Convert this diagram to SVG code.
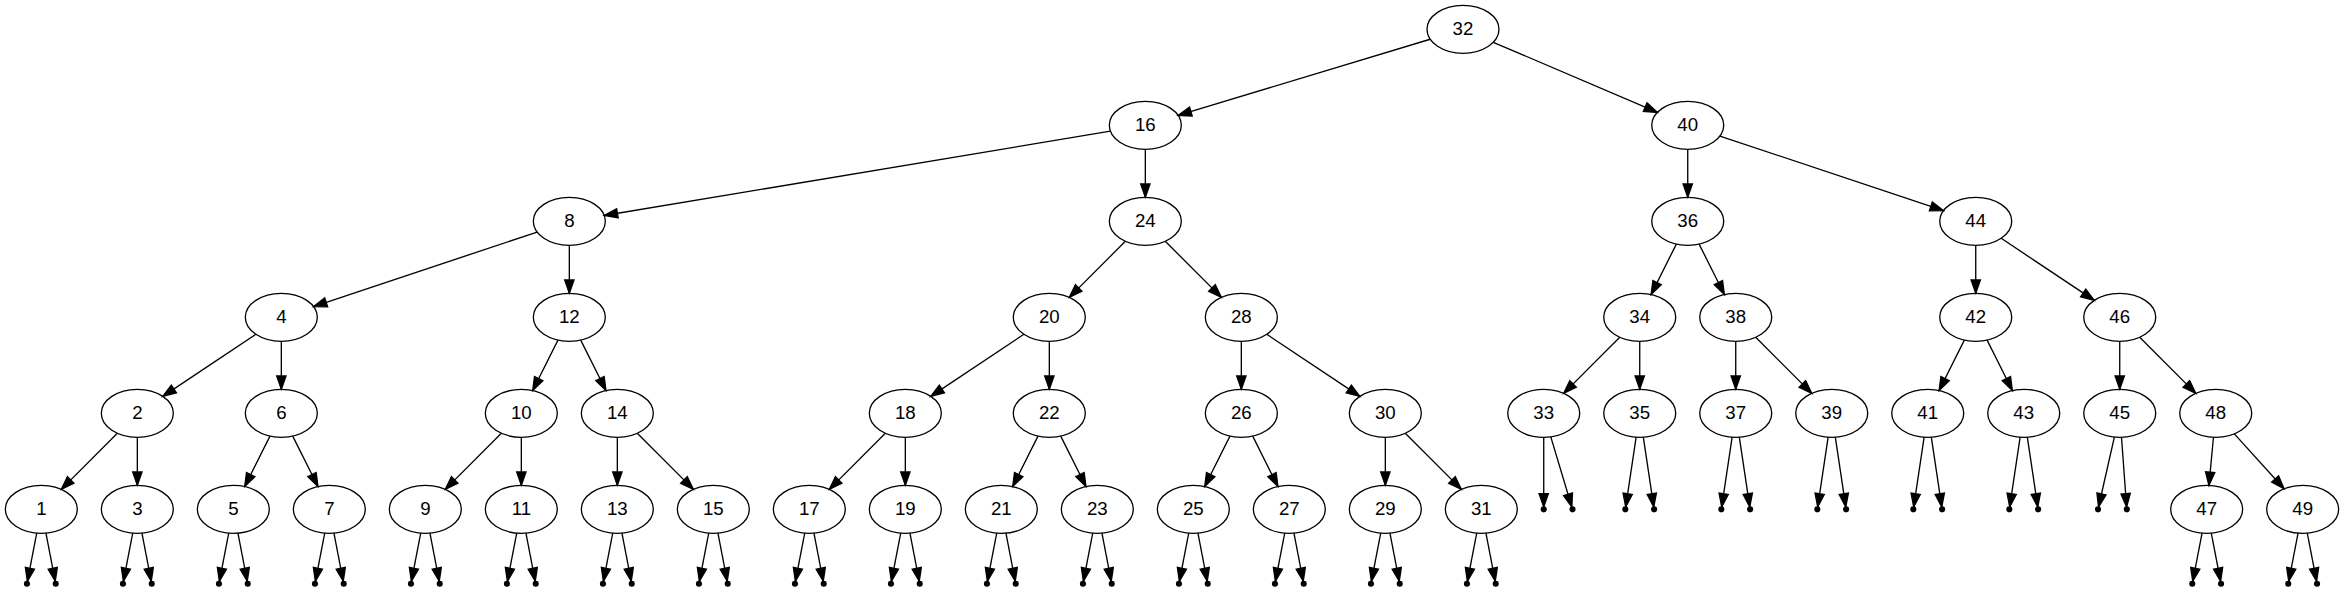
<svg xmlns="http://www.w3.org/2000/svg" width="2344" height="591" viewBox="0 0 2344 591">
<style>
.n ellipse{fill:none;stroke:#000;stroke-width:1.33}
.n text{font-family:"Liberation Sans",Arial,sans-serif;font-size:18.67px;text-anchor:middle;fill:#000}
.p circle{fill:#000;stroke:#000;stroke-width:1.33}
#edges line{stroke:#000;stroke-width:1.33;fill:none;marker-end:url(#ah)}
</style>
<defs>
<marker id="ah" markerUnits="userSpaceOnUse" markerWidth="16" markerHeight="12" refX="13.33" refY="4.67" orient="auto" style="overflow:visible">
<path d="M0,0 L13.33,4.67 L0,9.33 Z" fill="#000" stroke="#000" stroke-width="1.33"/>
</marker>
</defs>
<rect width="2344" height="591" fill="#fff"/>
<g id="edges">
<line x1="1430.21" y1="39.24" x2="1178.12" y2="115.42"/>
<line x1="1493.31" y1="42.28" x2="1657.42" y2="112.38"/>
<line x1="1110.40" y1="131.15" x2="604.26" y2="215.51"/>
<line x1="1145.33" y1="149.33" x2="1145.33" y2="197.33"/>
<line x1="1687.73" y1="149.33" x2="1687.73" y2="197.33"/>
<line x1="1719.93" y1="136.06" x2="1943.53" y2="210.60"/>
<line x1="537.13" y1="232.06" x2="313.53" y2="306.60"/>
<line x1="569.33" y1="245.33" x2="569.33" y2="293.33"/>
<line x1="1125.36" y1="241.30" x2="1069.30" y2="297.36"/>
<line x1="1165.30" y1="241.30" x2="1221.36" y2="297.36"/>
<line x1="1676.35" y1="244.10" x2="1651.11" y2="294.56"/>
<line x1="1699.11" y1="244.10" x2="1724.35" y2="294.56"/>
<line x1="1975.73" y1="245.33" x2="1975.73" y2="293.33"/>
<line x1="2001.19" y1="238.30" x2="2094.27" y2="300.36"/>
<line x1="255.87" y1="334.30" x2="162.79" y2="396.36"/>
<line x1="281.33" y1="341.33" x2="281.33" y2="389.33"/>
<line x1="557.95" y1="340.10" x2="532.71" y2="390.56"/>
<line x1="580.71" y1="340.10" x2="605.95" y2="390.56"/>
<line x1="1023.87" y1="334.30" x2="930.79" y2="396.36"/>
<line x1="1049.33" y1="341.33" x2="1049.33" y2="389.33"/>
<line x1="1241.33" y1="341.33" x2="1241.33" y2="389.33"/>
<line x1="1266.79" y1="334.30" x2="1359.87" y2="396.36"/>
<line x1="1619.76" y1="337.30" x2="1563.70" y2="393.36"/>
<line x1="1639.73" y1="341.33" x2="1639.73" y2="389.33"/>
<line x1="1735.73" y1="341.33" x2="1735.73" y2="389.33"/>
<line x1="1755.70" y1="337.30" x2="1811.76" y2="393.36"/>
<line x1="1964.35" y1="340.10" x2="1939.11" y2="390.56"/>
<line x1="1987.11" y1="340.10" x2="2012.35" y2="390.56"/>
<line x1="2119.73" y1="341.33" x2="2119.73" y2="389.33"/>
<line x1="2139.70" y1="337.30" x2="2195.76" y2="393.36"/>
<line x1="117.36" y1="433.30" x2="61.30" y2="489.36"/>
<line x1="137.33" y1="437.33" x2="137.33" y2="485.33"/>
<line x1="269.95" y1="436.10" x2="244.71" y2="486.56"/>
<line x1="292.71" y1="436.10" x2="317.95" y2="486.56"/>
<line x1="501.36" y1="433.30" x2="445.30" y2="489.36"/>
<line x1="521.33" y1="437.33" x2="521.33" y2="485.33"/>
<line x1="617.33" y1="437.33" x2="617.33" y2="485.33"/>
<line x1="637.30" y1="433.30" x2="693.36" y2="489.36"/>
<line x1="885.36" y1="433.30" x2="829.30" y2="489.36"/>
<line x1="905.33" y1="437.33" x2="905.33" y2="485.33"/>
<line x1="1037.95" y1="436.10" x2="1012.71" y2="486.56"/>
<line x1="1060.71" y1="436.10" x2="1085.95" y2="486.56"/>
<line x1="1229.95" y1="436.10" x2="1204.71" y2="486.56"/>
<line x1="1252.71" y1="436.10" x2="1277.95" y2="486.56"/>
<line x1="1385.33" y1="437.33" x2="1385.33" y2="485.33"/>
<line x1="1405.30" y1="433.30" x2="1461.36" y2="489.36"/>
<line x1="2213.47" y1="437.28" x2="2208.93" y2="485.38"/>
<line x1="2234.34" y1="433.88" x2="2284.06" y2="488.78"/>
<line x1="1543.73" y1="437.33" x2="1543.73" y2="506.93"/>
<line x1="1550.79" y1="436.86" x2="1571.84" y2="507.03"/>
<line x1="1636.15" y1="437.21" x2="1625.69" y2="506.96"/>
<line x1="1643.31" y1="437.21" x2="1653.77" y2="506.96"/>
<line x1="1732.15" y1="437.21" x2="1721.69" y2="506.96"/>
<line x1="1739.31" y1="437.21" x2="1749.77" y2="506.96"/>
<line x1="1828.15" y1="437.21" x2="1817.69" y2="506.96"/>
<line x1="1835.31" y1="437.21" x2="1845.77" y2="506.96"/>
<line x1="1924.15" y1="437.21" x2="1913.69" y2="506.96"/>
<line x1="1931.31" y1="437.21" x2="1941.77" y2="506.96"/>
<line x1="2020.15" y1="437.21" x2="2009.69" y2="506.96"/>
<line x1="2027.31" y1="437.21" x2="2037.77" y2="506.96"/>
<line x1="2114.36" y1="437.06" x2="2098.53" y2="506.99"/>
<line x1="2121.50" y1="437.30" x2="2126.62" y2="506.94"/>
<line x1="36.72" y1="533.13" x2="27.39" y2="581.37"/>
<line x1="45.94" y1="533.13" x2="55.27" y2="581.37"/>
<line x1="132.72" y1="533.13" x2="123.39" y2="581.37"/>
<line x1="141.94" y1="533.13" x2="151.27" y2="581.37"/>
<line x1="228.72" y1="533.13" x2="219.39" y2="581.37"/>
<line x1="237.94" y1="533.13" x2="247.27" y2="581.37"/>
<line x1="324.72" y1="533.13" x2="315.39" y2="581.37"/>
<line x1="333.94" y1="533.13" x2="343.27" y2="581.37"/>
<line x1="420.72" y1="533.13" x2="411.39" y2="581.37"/>
<line x1="429.94" y1="533.13" x2="439.27" y2="581.37"/>
<line x1="516.72" y1="533.13" x2="507.39" y2="581.37"/>
<line x1="525.94" y1="533.13" x2="535.27" y2="581.37"/>
<line x1="612.72" y1="533.13" x2="603.39" y2="581.37"/>
<line x1="621.94" y1="533.13" x2="631.27" y2="581.37"/>
<line x1="708.72" y1="533.13" x2="699.39" y2="581.37"/>
<line x1="717.94" y1="533.13" x2="727.27" y2="581.37"/>
<line x1="804.72" y1="533.13" x2="795.39" y2="581.37"/>
<line x1="813.94" y1="533.13" x2="823.27" y2="581.37"/>
<line x1="900.72" y1="533.13" x2="891.39" y2="581.37"/>
<line x1="909.94" y1="533.13" x2="919.27" y2="581.37"/>
<line x1="996.72" y1="533.13" x2="987.39" y2="581.37"/>
<line x1="1005.94" y1="533.13" x2="1015.27" y2="581.37"/>
<line x1="1092.72" y1="533.13" x2="1083.39" y2="581.37"/>
<line x1="1101.94" y1="533.13" x2="1111.27" y2="581.37"/>
<line x1="1188.72" y1="533.13" x2="1179.39" y2="581.37"/>
<line x1="1197.94" y1="533.13" x2="1207.27" y2="581.37"/>
<line x1="1284.72" y1="533.13" x2="1275.39" y2="581.37"/>
<line x1="1293.94" y1="533.13" x2="1303.27" y2="581.37"/>
<line x1="1380.72" y1="533.13" x2="1371.39" y2="581.37"/>
<line x1="1389.94" y1="533.13" x2="1399.27" y2="581.37"/>
<line x1="1476.72" y1="533.13" x2="1467.39" y2="581.37"/>
<line x1="1485.94" y1="533.13" x2="1495.27" y2="581.37"/>
<line x1="2202.06" y1="533.13" x2="2192.73" y2="581.37"/>
<line x1="2211.28" y1="533.13" x2="2220.61" y2="581.37"/>
<line x1="2298.06" y1="533.13" x2="2288.73" y2="581.37"/>
<line x1="2307.28" y1="533.13" x2="2316.61" y2="581.37"/>
</g>
<g id="n32" class="n"><ellipse cx="1463" cy="29.33" rx="36" ry="24"/><text x="1463" y="34.63">32</text></g>
<g id="n16" class="n"><ellipse cx="1145.33" cy="125.33" rx="36" ry="24"/><text x="1145.33" y="130.63">16</text></g>
<g id="n40" class="n"><ellipse cx="1687.73" cy="125.33" rx="36" ry="24"/><text x="1687.73" y="130.63">40</text></g>
<g id="n8" class="n"><ellipse cx="569.33" cy="221.33" rx="36" ry="24"/><text x="569.33" y="226.63">8</text></g>
<g id="n24" class="n"><ellipse cx="1145.33" cy="221.33" rx="36" ry="24"/><text x="1145.33" y="226.63">24</text></g>
<g id="n36" class="n"><ellipse cx="1687.73" cy="221.33" rx="36" ry="24"/><text x="1687.73" y="226.63">36</text></g>
<g id="n44" class="n"><ellipse cx="1975.73" cy="221.33" rx="36" ry="24"/><text x="1975.73" y="226.63">44</text></g>
<g id="n4" class="n"><ellipse cx="281.33" cy="317.33" rx="36" ry="24"/><text x="281.33" y="322.63">4</text></g>
<g id="n12" class="n"><ellipse cx="569.33" cy="317.33" rx="36" ry="24"/><text x="569.33" y="322.63">12</text></g>
<g id="n20" class="n"><ellipse cx="1049.33" cy="317.33" rx="36" ry="24"/><text x="1049.33" y="322.63">20</text></g>
<g id="n28" class="n"><ellipse cx="1241.33" cy="317.33" rx="36" ry="24"/><text x="1241.33" y="322.63">28</text></g>
<g id="n34" class="n"><ellipse cx="1639.73" cy="317.33" rx="36" ry="24"/><text x="1639.73" y="322.63">34</text></g>
<g id="n38" class="n"><ellipse cx="1735.73" cy="317.33" rx="36" ry="24"/><text x="1735.73" y="322.63">38</text></g>
<g id="n42" class="n"><ellipse cx="1975.73" cy="317.33" rx="36" ry="24"/><text x="1975.73" y="322.63">42</text></g>
<g id="n46" class="n"><ellipse cx="2119.73" cy="317.33" rx="36" ry="24"/><text x="2119.73" y="322.63">46</text></g>
<g id="n2" class="n"><ellipse cx="137.33" cy="413.33" rx="36" ry="24"/><text x="137.33" y="418.63">2</text></g>
<g id="n6" class="n"><ellipse cx="281.33" cy="413.33" rx="36" ry="24"/><text x="281.33" y="418.63">6</text></g>
<g id="n10" class="n"><ellipse cx="521.33" cy="413.33" rx="36" ry="24"/><text x="521.33" y="418.63">10</text></g>
<g id="n14" class="n"><ellipse cx="617.33" cy="413.33" rx="36" ry="24"/><text x="617.33" y="418.63">14</text></g>
<g id="n18" class="n"><ellipse cx="905.33" cy="413.33" rx="36" ry="24"/><text x="905.33" y="418.63">18</text></g>
<g id="n22" class="n"><ellipse cx="1049.33" cy="413.33" rx="36" ry="24"/><text x="1049.33" y="418.63">22</text></g>
<g id="n26" class="n"><ellipse cx="1241.33" cy="413.33" rx="36" ry="24"/><text x="1241.33" y="418.63">26</text></g>
<g id="n30" class="n"><ellipse cx="1385.33" cy="413.33" rx="36" ry="24"/><text x="1385.33" y="418.63">30</text></g>
<g id="n33" class="n"><ellipse cx="1543.73" cy="413.33" rx="36" ry="24"/><text x="1543.73" y="418.63">33</text></g>
<g id="n35" class="n"><ellipse cx="1639.73" cy="413.33" rx="36" ry="24"/><text x="1639.73" y="418.63">35</text></g>
<g id="n37" class="n"><ellipse cx="1735.73" cy="413.33" rx="36" ry="24"/><text x="1735.73" y="418.63">37</text></g>
<g id="n39" class="n"><ellipse cx="1831.73" cy="413.33" rx="36" ry="24"/><text x="1831.73" y="418.63">39</text></g>
<g id="n41" class="n"><ellipse cx="1927.73" cy="413.33" rx="36" ry="24"/><text x="1927.73" y="418.63">41</text></g>
<g id="n43" class="n"><ellipse cx="2023.73" cy="413.33" rx="36" ry="24"/><text x="2023.73" y="418.63">43</text></g>
<g id="n45" class="n"><ellipse cx="2119.73" cy="413.33" rx="36" ry="24"/><text x="2119.73" y="418.63">45</text></g>
<g id="n48" class="n"><ellipse cx="2215.73" cy="413.33" rx="36" ry="24"/><text x="2215.73" y="418.63">48</text></g>
<g id="n1" class="n"><ellipse cx="41.33" cy="509.33" rx="36" ry="24"/><text x="41.33" y="514.63">1</text></g>
<g id="n3" class="n"><ellipse cx="137.33" cy="509.33" rx="36" ry="24"/><text x="137.33" y="514.63">3</text></g>
<g id="n5" class="n"><ellipse cx="233.33" cy="509.33" rx="36" ry="24"/><text x="233.33" y="514.63">5</text></g>
<g id="n7" class="n"><ellipse cx="329.33" cy="509.33" rx="36" ry="24"/><text x="329.33" y="514.63">7</text></g>
<g id="n9" class="n"><ellipse cx="425.33" cy="509.33" rx="36" ry="24"/><text x="425.33" y="514.63">9</text></g>
<g id="n11" class="n"><ellipse cx="521.33" cy="509.33" rx="36" ry="24"/><text x="521.33" y="514.63">11</text></g>
<g id="n13" class="n"><ellipse cx="617.33" cy="509.33" rx="36" ry="24"/><text x="617.33" y="514.63">13</text></g>
<g id="n15" class="n"><ellipse cx="713.33" cy="509.33" rx="36" ry="24"/><text x="713.33" y="514.63">15</text></g>
<g id="n17" class="n"><ellipse cx="809.33" cy="509.33" rx="36" ry="24"/><text x="809.33" y="514.63">17</text></g>
<g id="n19" class="n"><ellipse cx="905.33" cy="509.33" rx="36" ry="24"/><text x="905.33" y="514.63">19</text></g>
<g id="n21" class="n"><ellipse cx="1001.33" cy="509.33" rx="36" ry="24"/><text x="1001.33" y="514.63">21</text></g>
<g id="n23" class="n"><ellipse cx="1097.33" cy="509.33" rx="36" ry="24"/><text x="1097.33" y="514.63">23</text></g>
<g id="n25" class="n"><ellipse cx="1193.33" cy="509.33" rx="36" ry="24"/><text x="1193.33" y="514.63">25</text></g>
<g id="n27" class="n"><ellipse cx="1289.33" cy="509.33" rx="36" ry="24"/><text x="1289.33" y="514.63">27</text></g>
<g id="n29" class="n"><ellipse cx="1385.33" cy="509.33" rx="36" ry="24"/><text x="1385.33" y="514.63">29</text></g>
<g id="n31" class="n"><ellipse cx="1481.33" cy="509.33" rx="36" ry="24"/><text x="1481.33" y="514.63">31</text></g>
<g id="n47" class="n"><ellipse cx="2206.67" cy="509.33" rx="36" ry="24"/><text x="2206.67" y="514.63">47</text></g>
<g id="n49" class="n"><ellipse cx="2302.67" cy="509.33" rx="36" ry="24"/><text x="2302.67" y="514.63">49</text></g>
<g id="null33a" class="p"><circle cx="1543.73" cy="509.33" r="2.4"/></g>
<g id="null33b" class="p"><circle cx="1572.53" cy="509.33" r="2.4"/></g>
<g id="null35a" class="p"><circle cx="1625.33" cy="509.33" r="2.4"/></g>
<g id="null35b" class="p"><circle cx="1654.13" cy="509.33" r="2.4"/></g>
<g id="null37a" class="p"><circle cx="1721.33" cy="509.33" r="2.4"/></g>
<g id="null37b" class="p"><circle cx="1750.13" cy="509.33" r="2.4"/></g>
<g id="null39a" class="p"><circle cx="1817.33" cy="509.33" r="2.4"/></g>
<g id="null39b" class="p"><circle cx="1846.13" cy="509.33" r="2.4"/></g>
<g id="null41a" class="p"><circle cx="1913.33" cy="509.33" r="2.4"/></g>
<g id="null41b" class="p"><circle cx="1942.13" cy="509.33" r="2.4"/></g>
<g id="null43a" class="p"><circle cx="2009.33" cy="509.33" r="2.4"/></g>
<g id="null43b" class="p"><circle cx="2038.13" cy="509.33" r="2.4"/></g>
<g id="null45a" class="p"><circle cx="2098.0" cy="509.33" r="2.4"/></g>
<g id="null45b" class="p"><circle cx="2126.8" cy="509.33" r="2.4"/></g>
<g id="null1a" class="p"><circle cx="26.93" cy="583.73" r="2.4"/></g>
<g id="null1b" class="p"><circle cx="55.73" cy="583.73" r="2.4"/></g>
<g id="null3a" class="p"><circle cx="122.93" cy="583.73" r="2.4"/></g>
<g id="null3b" class="p"><circle cx="151.73" cy="583.73" r="2.4"/></g>
<g id="null5a" class="p"><circle cx="218.93" cy="583.73" r="2.4"/></g>
<g id="null5b" class="p"><circle cx="247.73" cy="583.73" r="2.4"/></g>
<g id="null7a" class="p"><circle cx="314.93" cy="583.73" r="2.4"/></g>
<g id="null7b" class="p"><circle cx="343.73" cy="583.73" r="2.4"/></g>
<g id="null9a" class="p"><circle cx="410.93" cy="583.73" r="2.4"/></g>
<g id="null9b" class="p"><circle cx="439.73" cy="583.73" r="2.4"/></g>
<g id="null11a" class="p"><circle cx="506.93" cy="583.73" r="2.4"/></g>
<g id="null11b" class="p"><circle cx="535.73" cy="583.73" r="2.4"/></g>
<g id="null13a" class="p"><circle cx="602.93" cy="583.73" r="2.4"/></g>
<g id="null13b" class="p"><circle cx="631.73" cy="583.73" r="2.4"/></g>
<g id="null15a" class="p"><circle cx="698.93" cy="583.73" r="2.4"/></g>
<g id="null15b" class="p"><circle cx="727.73" cy="583.73" r="2.4"/></g>
<g id="null17a" class="p"><circle cx="794.93" cy="583.73" r="2.4"/></g>
<g id="null17b" class="p"><circle cx="823.73" cy="583.73" r="2.4"/></g>
<g id="null19a" class="p"><circle cx="890.93" cy="583.73" r="2.4"/></g>
<g id="null19b" class="p"><circle cx="919.73" cy="583.73" r="2.4"/></g>
<g id="null21a" class="p"><circle cx="986.93" cy="583.73" r="2.4"/></g>
<g id="null21b" class="p"><circle cx="1015.73" cy="583.73" r="2.4"/></g>
<g id="null23a" class="p"><circle cx="1082.93" cy="583.73" r="2.4"/></g>
<g id="null23b" class="p"><circle cx="1111.73" cy="583.73" r="2.4"/></g>
<g id="null25a" class="p"><circle cx="1178.93" cy="583.73" r="2.4"/></g>
<g id="null25b" class="p"><circle cx="1207.73" cy="583.73" r="2.4"/></g>
<g id="null27a" class="p"><circle cx="1274.93" cy="583.73" r="2.4"/></g>
<g id="null27b" class="p"><circle cx="1303.73" cy="583.73" r="2.4"/></g>
<g id="null29a" class="p"><circle cx="1370.93" cy="583.73" r="2.4"/></g>
<g id="null29b" class="p"><circle cx="1399.73" cy="583.73" r="2.4"/></g>
<g id="null31a" class="p"><circle cx="1466.93" cy="583.73" r="2.4"/></g>
<g id="null31b" class="p"><circle cx="1495.73" cy="583.73" r="2.4"/></g>
<g id="null47a" class="p"><circle cx="2192.27" cy="583.73" r="2.4"/></g>
<g id="null47b" class="p"><circle cx="2221.07" cy="583.73" r="2.4"/></g>
<g id="null49a" class="p"><circle cx="2288.27" cy="583.73" r="2.4"/></g>
<g id="null49b" class="p"><circle cx="2317.07" cy="583.73" r="2.4"/></g>
</svg>
